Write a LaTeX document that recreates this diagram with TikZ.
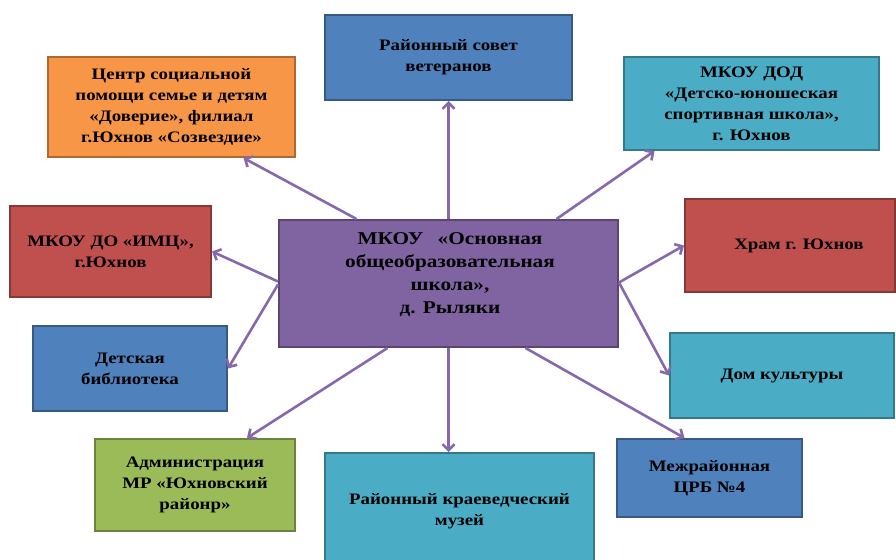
\documentclass[tikz,border=0pt]{standalone}
\usepackage{fontspec}
\setmainfont{Liberation Serif}[FakeStretch=1.18]
\usetikzlibrary{arrows.meta}

\definecolor{boxblue}{HTML}{4F81BD}
\definecolor{boxorange}{HTML}{F79646}
\definecolor{boxteal}{HTML}{4BACC6}
\definecolor{boxred}{HTML}{C0504D}
\definecolor{boxpurple}{HTML}{8064A2}
\definecolor{boxgreen}{HTML}{9BBB59}
\definecolor{linkcol}{HTML}{8668AC}

\tikzset{
	org/.style = {draw = #1!70!black, fill = #1, line width = 2pt, align = center,
		font = \bfseries\fontsize{16}{21}\selectfont, inner sep = 0pt},
}

\begin{document}
\begin{tikzpicture}[x = 1pt, y = -1pt, > = {Straight Barb[length = 6pt, width = 12pt]}]

	% Page frame
	
	\clip (0, 0) rectangle (896, 559);
	\useasboundingbox (0, 0) rectangle (896, 559);
	
	% The school in the middle
	
	\node [org = boxpurple, minimum width = 339pt, minimum height = 127pt] (school) at (448.5, 283.5) {};
	\node [font = \bfseries\fontsize{18}{23}\selectfont, align = center] (schooltxt) at (450, 275)
		{МКОУ \enspace«Основная\\ общеобразовательная\\ школа»,\\ д. Рыляки};
	
	% Partners round it
	
	\node [org = boxblue, minimum width = 247pt, minimum height = 85pt] (vet) at (448.5, 57.5)
		{Районный совет\\ ветеранов};
	\node [org = boxorange, minimum width = 247pt, minimum height = 100pt] (centr) at (171.5, 107)
		{Центр социальной\\ помощи семье и детям\\ «Доверие», филиал\\ г.Юхнов «Созвездие»};
	\node [org = boxteal, minimum width = 255pt, minimum height = 93pt] (dod) at (751.5, 103.5)
		{МКОУ ДОД\\ «Детско-юношеская\\ спортивная школа»,\\ г. Юхнов};
	\node [org = boxred, minimum width = 201pt, minimum height = 91pt] (imc) at (110.5, 251.5)
		{МКОУ ДО «ИМЦ»,\\ г.Юхнов};
	\node [org = boxred, minimum width = 210pt, minimum height = 93pt] (hram) at (790, 245.5)
		{\hspace{18pt}Храм г. Юхнов};
	\node [org = boxblue, minimum width = 194pt, minimum height = 85pt] (bibl) at (130, 368.5)
		{Детская\\ библиотека};
	\node [org = boxteal, minimum width = 224pt, minimum height = 85pt] (dk) at (782, 375.5)
		{Дом культуры};
	\node [org = boxgreen, minimum width = 200pt, minimum height = 92pt] (adm) at (195, 485)
		{Администрация\\ МР «Юхновский\\ районр»};
	\node [org = boxteal, minimum width = 269pt, minimum height = 117pt] (muz) at (459.5, 511.5)
		{Районный краеведческий\\ музей};
	\node [org = boxblue, minimum width = 185pt, minimum height = 78pt] (crb) at (709.5, 478)
		{Межрайонная\\ ЦРБ №4};
	
	% Links from the school
	
	\begin{scope}[->, linkcol, line width = 2.6pt]
	
		\draw (school.north) -- (vet.south);
		\draw ([xshift = -92pt] school.north) -- ([xshift = 72pt] centr.south);
		\draw ([xshift = 108pt] school.north) -- ([xshift = -97pt] dod.south);
		
		\draw ([yshift = 2pt] school.west) -- (imc.east);
		\draw ([yshift = -1pt] school.west) -- (bibl.east);
		\draw ([yshift = 1pt] school.east) -- (hram.west);
		\draw ([yshift = 1pt] school.east) -- (dk.west);
		
		\draw ([xshift = -61pt] school.south) -- ([xshift = 52pt] adm.north);
		\draw (school.south) -- (school.south |- muz.north);
		\draw ([xshift = 77pt] school.south) -- ([xshift = -25pt] crb.north);
		
	\end{scope}
		
\end{tikzpicture}
\end{document}
